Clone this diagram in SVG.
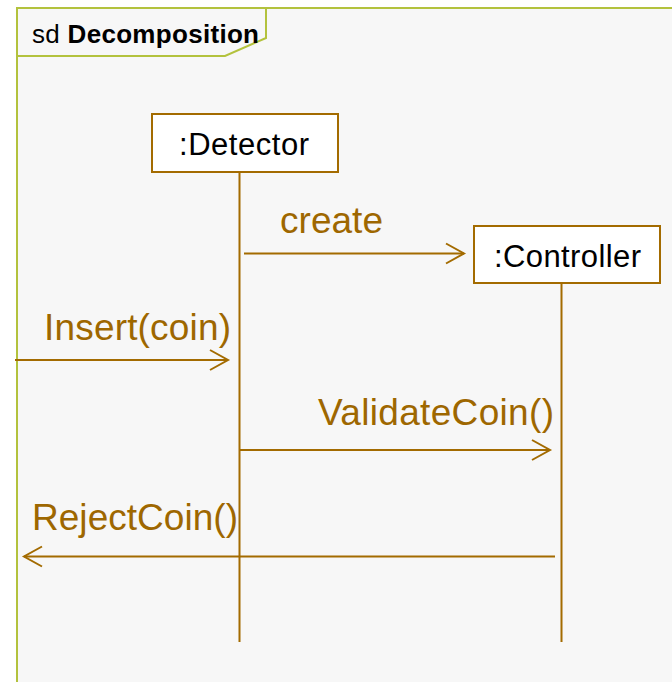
<svg xmlns="http://www.w3.org/2000/svg" width="672" height="682" viewBox="0 0 672 682">
  <defs>
    <style>
      .frame { fill: #f7f7f7; stroke: #b3c23d; stroke-width: 2; }
      .tab { fill: none; stroke: #b3c23d; stroke-width: 2; }
      .title { font-family: "Liberation Sans", Arial, sans-serif; font-size: 26px; fill: #000; }
      .box { fill: #ffffff; stroke: #a36b00; stroke-width: 2; }
      .boxlabel { font-family: "Liberation Sans", Arial, sans-serif; font-size: 31px; fill: #000; }
      .lifeline { stroke: #a36b00; stroke-width: 2; fill: none; }
      .msg { stroke: #a36b00; stroke-width: 2; fill: none; marker-end: url(#open); }
      .msglabel { font-family: "Liberation Sans", Arial, sans-serif; font-size: 37px; fill: #9e6700; }
    </style>
    <marker id="open" markerUnits="userSpaceOnUse" markerWidth="24" markerHeight="24" viewBox="-20 -12 24 24" refX="0" refY="0" orient="auto" overflow="visible">
      <path d="M -18 -10 L 0 0 L -18 10" fill="none" stroke="#a36b00" stroke-width="2"/>
    </marker>
  </defs>

  <rect width="672" height="682" fill="#ffffff"/>

  <!-- sequence diagram frame -->
  <g id="frame">
    <rect class="frame" x="17" y="8" width="720" height="720"/>
    <path class="tab" d="M 17 56 L 225 56 L 266 38 L 266 8"/>
    <text class="title" x="32" y="43" textLength="227" lengthAdjust="spacing">sd <tspan font-weight="bold">Decomposition</tspan></text>
  </g>

  <!-- lifeline heads -->
  <g id="detector">
    <rect class="box" x="152" y="114" width="186" height="58"/>
    <text class="boxlabel" x="179" y="155" textLength="130" lengthAdjust="spacing">:Detector</text>
  </g>
  <g id="controller">
    <rect class="box" x="474" y="226" width="186" height="57"/>
    <text class="boxlabel" x="494" y="267" textLength="147" lengthAdjust="spacing">:Controller</text>
  </g>

  <!-- lifelines and messages -->
  <g id="connectors">
    <line class="lifeline" x1="239.5" y1="172" x2="239.5" y2="642"/>
    <line class="lifeline" x1="561.5" y1="283" x2="561.5" y2="642"/>

    <line class="msg" x1="244" y1="253.5" x2="464" y2="253.5"/>
    <text class="msglabel" x="280" y="233" textLength="103" lengthAdjust="spacing">create</text>

    <line class="msg" x1="15" y1="360" x2="228" y2="360"/>
    <text class="msglabel" x="44" y="340" textLength="187" lengthAdjust="spacing">Insert(coin)</text>

    <line class="msg" x1="240" y1="450" x2="550" y2="450"/>
    <text class="msglabel" x="318" y="425" textLength="236" lengthAdjust="spacing">ValidateCoin()</text>

    <line class="msg" x1="555" y1="556.5" x2="24" y2="556.5"/>
    <text class="msglabel" x="32" y="530" textLength="206" lengthAdjust="spacing">RejectCoin()</text>
  </g>
</svg>
